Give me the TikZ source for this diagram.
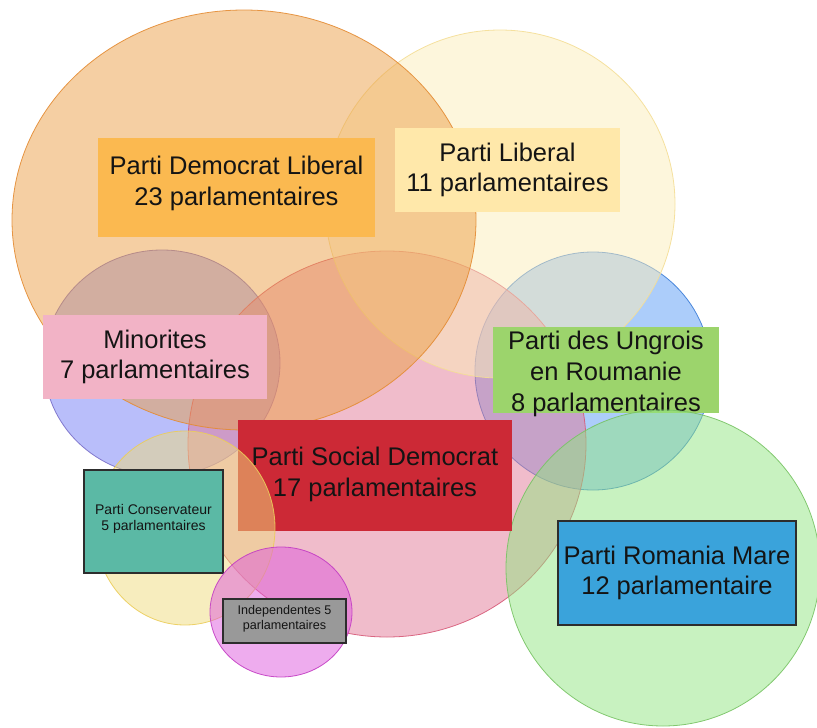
\documentclass[tikz,border=0pt]{standalone}
\usepackage{fontspec}
\setmainfont{Liberation Sans}
\definecolor{orF}{RGB}{235,159,71}
\definecolor{orS}{RGB}{228,140,52}
\definecolor{yelF}{RGB}{251,237,185}
\definecolor{yelS}{RGB}{244,222,150}
\definecolor{purF}{RGB}{115,125,245}
\definecolor{purS}{RGB}{120,110,200}
\definecolor{pinkF}{RGB}{225,121,151}
\definecolor{pinkS}{RGB}{215,90,120}
\definecolor{bluF}{RGB}{89,155,245}
\definecolor{bluS}{RGB}{60,125,215}
\definecolor{grnF}{RGB}{145,229,129}
\definecolor{grnS}{RGB}{120,195,100}
\definecolor{syF}{RGB}{239,219,125}
\definecolor{syS}{RGB}{235,205,90}
\definecolor{magF}{RGB}{221,89,221}
\definecolor{magS}{RGB}{195,60,195}
\definecolor{bPDL}{RGB}{251,185,80}
\definecolor{bPL}{RGB}{255,232,170}
\definecolor{bMin}{RGB}{242,179,198}
\definecolor{bUng}{RGB}{156,212,108}
\definecolor{bPSD}{RGB}{204,41,54}
\definecolor{bCons}{RGB}{91,185,165}
\definecolor{bInd}{RGB}{153,153,153}
\definecolor{bPRM}{RGB}{58,163,219}
\definecolor{txt}{RGB}{20,20,20}
\definecolor{edge}{RGB}{45,45,45}
\begin{document}
\begin{tikzpicture}[x=1pt,y=-1pt,
  circ/.style={line width=0.8pt, fill opacity=0.5, draw opacity=0.9},
  bigbox/.style={rectangle, inner sep=0pt, align=center, text=txt,
    font=\fontsize{25.5}{30.5}\selectfont},
  smallbox/.style={rectangle, inner sep=0pt, align=center, text=txt,
    draw=edge, line width=1.2pt},
  bigtext/.style={inner sep=0pt, align=center, text=txt,
    font=\fontsize{25.5}{31}\selectfont}]
\useasboundingbox (0,0) rectangle (817,728);
% circles (lower layers)
\draw[circ, draw=bluS, fill=bluF] (593,371) ellipse [x radius=118pt, y radius=119pt];
\draw[circ, draw=purS, fill=purF] (162,363) ellipse [x radius=118pt, y radius=113pt];
\draw[circ, draw=pinkS, fill=pinkF] (387,444) ellipse [x radius=199pt, y radius=193pt];
\draw[circ, draw=yelS, fill=yelF] (500,204) ellipse [x radius=175pt, y radius=174pt];
\draw[circ, draw=orS, fill=orF] (244,220) ellipse [x radius=232pt, y radius=210pt];
% boxes
\node[bigbox, fill=bPDL, minimum width=277pt, minimum height=99pt] (pdl) at (236.5,187.5) {};
\node[bigtext] (pdlt) at (236.5,183) {Parti Democrat Liberal\\23 parlamentaires};
\node[bigbox, fill=bPL, minimum width=225pt, minimum height=84pt] (pl) at (507.5,170) {Parti Liberal\\11 parlamentaires};
\node[bigbox, fill=bMin, minimum width=224pt, minimum height=84pt] (min) at (155,357) {Minorites\\7 parlamentaires};
\node[bigbox, fill=bUng, minimum width=226pt, minimum height=86pt] (ung) at (606,370) {};
\node[bigtext] (ungt) at (606,374) {Parti des Ungrois\\en Roumanie\\8 parlamentaires};
% green circle over the Ungrois text
\draw[circ, draw=grnS, fill=grnF] (663,568) ellipse [x radius=157pt, y radius=158pt];
\node[bigbox, fill=bPSD, minimum width=274pt, minimum height=111pt] (psd) at (375,475.5) {};
\node[bigtext] (psdt) at (375,474) {Parti Social Democrat\\17 parlamentaires};
% small yellow circle over the PSD box
\draw[circ, draw=syS, fill=syF] (185,528) ellipse [x radius=90pt, y radius=97pt];
\node[smallbox, fill=bCons, minimum width=139pt, minimum height=103pt] (cons) at (153.5,521.5) {};
\node[inner sep=0pt, align=center, text=txt, font=\fontsize{14}{16}\selectfont] (const) at (153.5,519) {Parti Conservateur\\5 parlamentaires};
\draw[circ, draw=magS, fill=magF] (281,612) ellipse [x radius=71pt, y radius=65pt];
\node[smallbox, fill=bInd, minimum width=123pt, minimum height=44pt] (ind) at (284.5,621) {};
\node[inner sep=0pt, align=center, text=txt, font=\fontsize{12.6}{15}\selectfont] (indt) at (284.5,618.5) {Independentes 5\\parlamentaires};
\node[smallbox, fill=bPRM, minimum width=238pt, minimum height=104pt,
  font=\fontsize{25.5}{30.5}\selectfont] (prm) at (677,573) {Parti Romania Mare\\12 parlamentaire};
\end{tikzpicture}
\end{document}
